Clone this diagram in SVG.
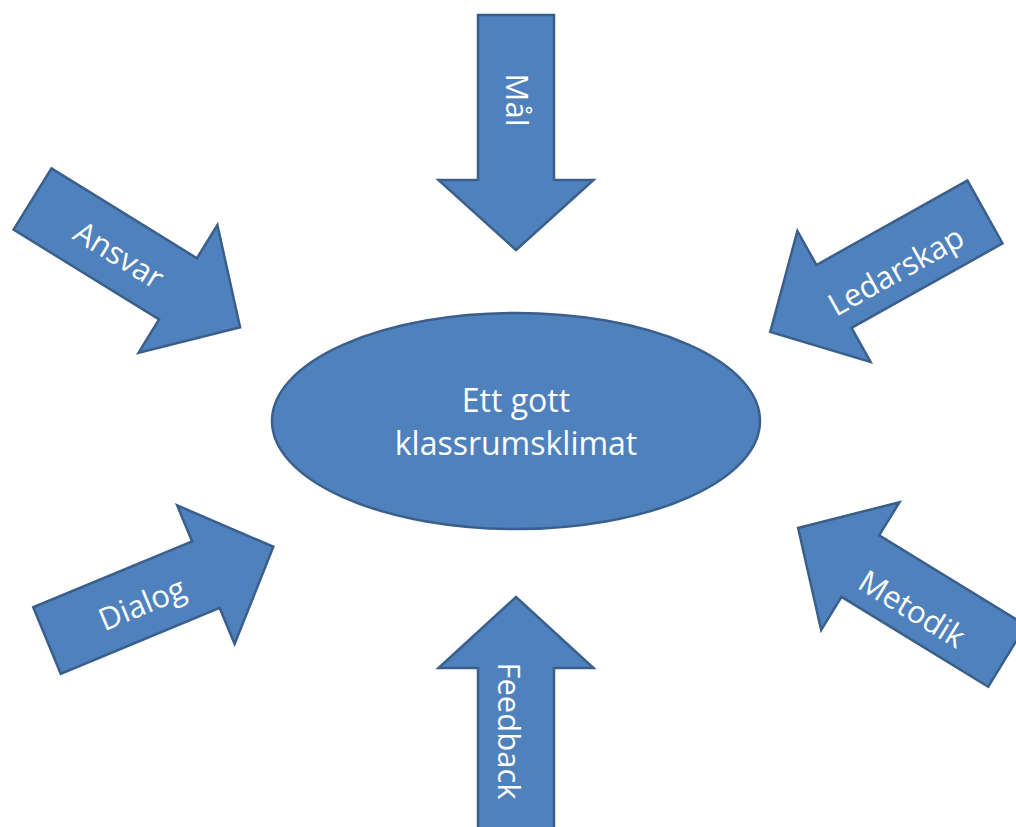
<svg xmlns="http://www.w3.org/2000/svg" width="1016" height="827" viewBox="0 0 1016 827">
<style>
.shape{fill:#4F81BD;stroke:#3A5F8C;stroke-width:2.5;stroke-linejoin:miter}
.lbl{fill:#FFFFFF;font-family:"Open Sans","Noto Sans",sans-serif;font-size:31px;text-anchor:middle}
</style>
<rect width="1016" height="827" fill="#FFFFFF"/>
<g id="connectors">
  <g id="arrow-mal">
    <path class="shape" transform="translate(516,15) rotate(90)" d="M0,-38 L165,-38 L165,-77.5 L235,0 L165,77.5 L165,38 L0,38 Z"/>
    <text class="lbl" transform="translate(517,100) rotate(90)" dy="0.35em">Mål</text>
  </g>
  <g id="arrow-feedback">
    <path class="shape" transform="translate(516,842) rotate(-90)" d="M0,-38 L174,-38 L174,-77.5 L245,0 L174,77.5 L174,38 L0,38 Z"/>
    <text class="lbl" transform="translate(509,731) rotate(90)" dy="0.35em">Feedback</text>
  </g>
  <g id="arrow-ansvar">
    <path class="shape" transform="translate(32.5,199) rotate(31.7)" d="M0,-36 L171,-36 L171,-75 L244,0 L171,75 L171,36 L0,36 Z"/>
    <text class="lbl" transform="translate(119,255) rotate(31.7)" dy="0.35em">Ansvar</text>
  </g>
  <g id="arrow-ledarskap">
    <path class="shape" transform="translate(985,212) rotate(150.8)" d="M0,-36 L173,-36 L173,-75 L246,0 L173,75 L173,36 L0,36 Z"/>
    <text class="lbl" transform="translate(896,271) rotate(-29.2)" dy="0.35em">Ledarskap</text>
  </g>
  <g id="arrow-dialog">
    <path class="shape" transform="translate(47,640.5) rotate(-22.5)" d="M0,-36 L172,-36 L172,-75 L245,0 L172,75 L172,36 L0,36 Z"/>
    <text class="lbl" transform="translate(142,604) rotate(-22.5)" dy="0.35em">Dialog</text>
  </g>
  <g id="arrow-metodik">
    <path class="shape" transform="translate(1007,656) rotate(211.5)" d="M0,-36 L172,-36 L172,-75 L245,0 L172,75 L172,36 L0,36 Z"/>
    <text class="lbl" transform="translate(912,609) rotate(31.5)" dy="0.35em">Metodik</text>
  </g>
</g>
<g id="node-center">
  <ellipse class="shape" cx="516" cy="421" rx="244" ry="108"/>
  <text class="lbl" style="font-size:32px" x="516" y="412">Ett gott</text>
  <text class="lbl" style="font-size:32px" x="516" y="455">klassrumsklimat</text>
</g>
</svg>
